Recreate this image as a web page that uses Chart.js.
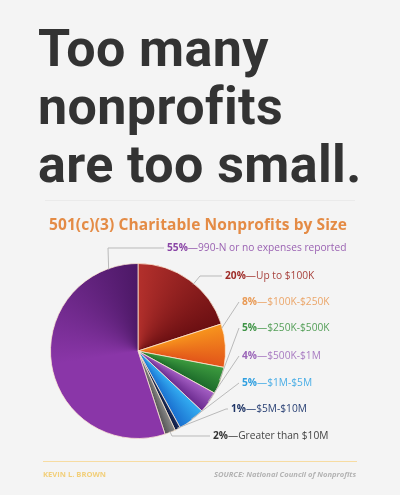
<!DOCTYPE html>
<html>
<head>
<meta charset="utf-8"/>
<title>Too many nonprofits are too small.</title>
<script src="https://cdn.jsdelivr.net/npm/chart.js@4.4.1/dist/chart.umd.min.js"></script>
<style>
  html, body { margin: 0; padding: 0; background: #f4f4f4; }
  body { width: 400px; height: 495px; position: relative; overflow: hidden; }
  #chart { position: absolute; left: 0; top: 0; }
  .headline {
    position: absolute; left: 38px; top: 20px; margin: 0;
    font-family: Roboto, sans-serif; font-weight: 700; font-size: 52px;
    line-height: 58px; color: #333; letter-spacing: 0.4px;
  }
  .rule { position: absolute; left: 45px; width: 310px; height: 1px; }
  .subtitle {
    position: absolute; left: 0; width: 396px; top: 213px; margin: 0; text-align: center;
    font-family: "Open Sans", sans-serif; font-weight: 700; font-size: 15.5px; color: #e48b45;
    letter-spacing: 0.1px;
  }
  .footer {
    position: absolute; top: 469px; font-size: 7.6px; font-family: "Open Sans", sans-serif; font-weight: 700;
  }
</style>
</head>
<body>
<canvas id="chart" width="400" height="495"></canvas>
<h1 class="headline">Too many<br>nonprofits<br>are too small.</h1>
<div class="rule" style="top:200px;background:#eaeaea;"></div>
<h2 class="subtitle">501(c)(3) Charitable Nonprofits by Size</h2>
<div class="rule" style="top:461px;left:43px;width:314px;background:#f7dca2;"></div>
<div class="footer" style="left:43px;color:#f2cf7a;">KEVIN L. BROWN</div>
<div class="footer" style="right:44px;color:#b3b3b3;font-style:italic;">SOURCE: National Council of Nonprofits</div>

<script>
// slices in clockwise order from 12 o'clock
var categories = ['Up to $100K', '$100K-$250K', '$250K-$500K', '$500K-$1M',
                  '$1M-$5M', '$5M-$10M', 'Greater than $10M', '990-N or no expenses reported'];
var shares = [20, 8, 5, 4, 5, 1, 2, 55];
var shareLabels = ['20%', '8%', '5%', '4%', '5%', '1%', '2%', '55%'];

// light -> dark colour of each slice
var lightColors = ['#b3302c', '#f7941d', '#3d9c3f', '#a45fc4', '#33aef2', '#1d2f63', '#8a8a8a', '#8a36a8'];
var darkColors  = ['#6b0f12', '#e2541a', '#1c6a2a', '#6a2a8e', '#1a6fcf', '#0d1a3e', '#555555', '#4c1866'];
var pctColors   = ['#9e2b27', '#e99a55', '#3f9446', '#9b66b8', '#2f9fe0', '#1f3566', '#333333', '#8a45a6'];
var textColors  = ['#a8423d', '#eba66a', '#56a05a', '#a97cc2', '#4aaee6', '#2b4275', '#444444', '#9a62b2'];

// label placement (left edge of text, middle) and leader knee / anchor along the slice
var labelX   = [225, 242, 242, 242, 242, 231, 213, 167];
var labelY   = [276, 302, 328, 356, 383, 409, 436, 248];
var kneeX    = [200, 239, 239, 239, 239, 226, 172, 108];
var anchorAt = [0.55, 0.1, 0.5, 0.5, 0.5, 0.5, 0.5, 0.9];

var total = shares.reduce(function(a, b) { return a + b; }, 0);

function sliceAngles(i) {
    var before = 0;
    for (var k = 0; k < i; k++) before += shares[k];
    var start = -Math.PI / 2 + 2 * Math.PI * before / total;
    return [start, start + 2 * Math.PI * shares[i] / total];
}

function sliceFill(c) {
    var area = c.chart.chartArea;
    var i = c.dataIndex;
    if (!area || i === undefined) return lightColors[i || 0];
    var ctx = c.chart.ctx;
    var cx = (area.left + area.right) / 2, cy = (area.top + area.bottom) / 2;
    var a = sliceAngles(i);
    var g = ctx.createConicGradient(a[0], cx, cy);
    var f = (a[1] - a[0]) / (2 * Math.PI);
    g.addColorStop(0, lightColors[i]);
    if (i === 7) g.addColorStop(f * 0.5, lightColors[i]);
    g.addColorStop(f, darkColors[i]);
    g.addColorStop(1, darkColors[i]);
    return g;
}

var leaders = {
    id: 'leaders',
    afterDraw: function(chart) {
        var ctx = chart.ctx;
        var arcs = chart.getDatasetMeta(0).data;
        var size = 10.2;
        ctx.save();
        for (var i = 0; i < arcs.length; i++) {
            var p = arcs[i].getProps(['x', 'y', 'startAngle', 'endAngle', 'outerRadius'], true);
            var ang = p.startAngle + (p.endAngle - p.startAngle) * anchorAt[i];
            var ax = p.x + Math.cos(ang) * p.outerRadius * 0.99;
            var ay = p.y + Math.sin(ang) * p.outerRadius * 0.99;
            var ty = labelY[i];
            ctx.strokeStyle = '#b9b9b9';
            ctx.lineWidth = 1;
            ctx.beginPath();
            ctx.moveTo(labelX[i] - 3, ty);
            ctx.lineTo(kneeX[i], ty);
            ctx.lineTo(ax, ay);
            ctx.stroke();

            ctx.textBaseline = 'middle';
            ctx.textAlign = 'left';
            ctx.font = '700 ' + size + 'px "Open Sans", sans-serif';
            ctx.fillStyle = pctColors[i];
            ctx.fillText(shareLabels[i], labelX[i], ty);
            var x = labelX[i] + ctx.measureText(shareLabels[i]).width;
            ctx.font = '400 ' + size + 'px "Open Sans", sans-serif';
            ctx.fillStyle = textColors[i];
            ctx.fillText('\u2014' + categories[i], x, ty);
        }
        ctx.restore();
    }
};

var chart = new Chart(document.getElementById('chart'), {
    type: 'pie',
    data: {
        labels: categories,
        datasets: [{
            data: shares,
            backgroundColor: sliceFill,
            borderColor: 'rgba(255, 236, 215, 0.75)',
            borderWidth: 1
        }]
    },
    options: {
        responsive: false,
        animation: false,
        devicePixelRatio: 1,
        layout: { padding: { left: 50, top: 263, right: 174, bottom: 56 } },
        plugins: {
            legend: { display: false },
            tooltip: { enabled: false },
            title: { display: false }
        }
    },
    plugins: [leaders]
});
</script>
</body>
</html>
